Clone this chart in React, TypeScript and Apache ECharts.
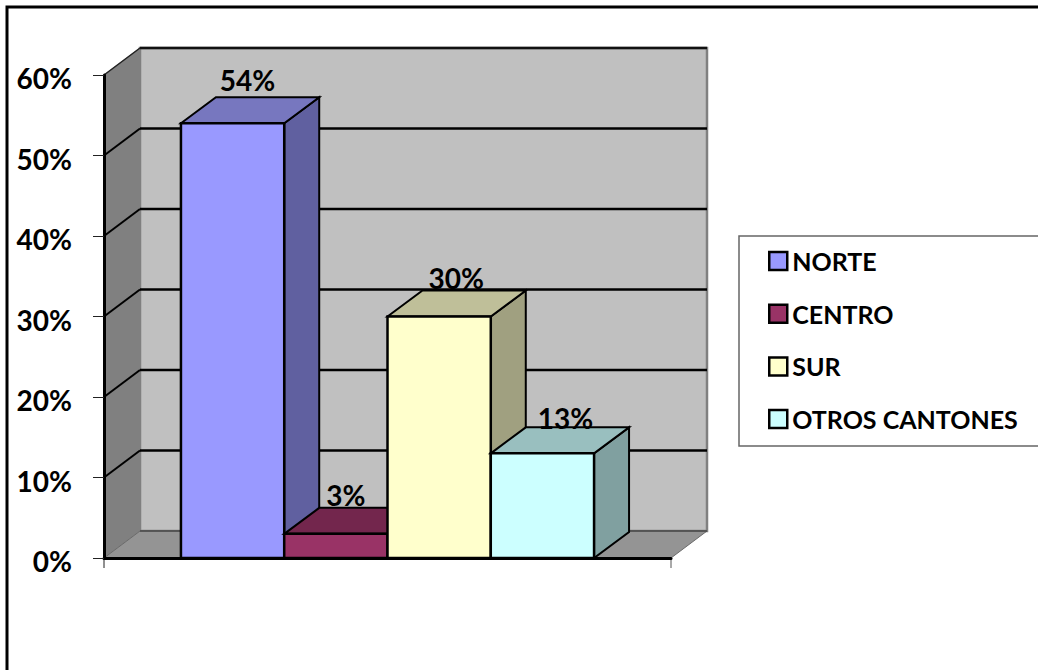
import React, { useEffect, useRef } from "react";
import * as echarts from "echarts";

// Share of responses per zone, in percent.
const zones = ["NORTE", "CENTRO", "SUR", "OTROS CANTONES"];
const shares = [54, 3, 30, 13];
const yTicks = [0, 10, 20, 30, 40, 50, 60];
const categories = [""];

const faceColors = ["#9999FF", "#993366", "#FFFFCC", "#CCFFFF"];
const topColors = ["#7777BF", "#73264D", "#BFBF99", "#99BFBF"];
const sideColors = ["#6060A0", "#602040", "#A0A080", "#80A0A0"];

const FONT = "Lato, 'Open Sans', sans-serif";
const GAP_RATIO = 0.745; // free space each side of the cluster, in bar widths
const DEPTH_X = 36;
const DEPTH_Y = -27;
const BAR_DEPTH_X = 35;
const BAR_DEPTH_Y = -26;
// Value labels sit a little to the right of each bar's centre.
const labelShiftX = [15, 10, 17, 23];
const labelShiftY = [-17, -13, -13, -9];

const poly = (points: number[][], fill: string, stroke: string, lineWidth: number, z2 = 0) => ({
  type: "polygon",
  z2,
  shape: { points },
  style: { fill, stroke, lineWidth, lineJoin: "miter" },
});

const seg = (a: number[], b: number[], stroke: string, lineWidth: number, z2 = 1) => ({
  type: "line",
  z2,
  shape: { x1: a[0], y1: a[1], x2: b[0], y2: b[1] },
  style: { stroke, lineWidth },
});

// Axis-aligned box of the front plane for one bar of the cluster.
function barFrame(api: any, index: number) {
  const cell = api.size([1, 0])[0];
  const left = api.coord([0, 0])[0] - cell / 2;
  const barWidth = cell / (zones.length + 2 * GAP_RATIO);
  const x0 = left + (GAP_RATIO + index) * barWidth;
  return { x0, x1: x0 + barWidth, barWidth };
}

function renderWalls(_: any, api: any) {
  const cell = api.size([1, 0])[0];
  const cx = api.coord([0, 0])[0];
  const l = cx - cell / 2;
  const r = cx + cell / 2;
  const yOf = (v: number) => api.coord([0, v])[1];
  const y0 = yOf(yTicks[0]);
  const yTop = yOf(yTicks[yTicks.length - 1]);
  const back = (x: number, y: number) => [x + DEPTH_X, y + DEPTH_Y];

  const children: any[] = [
    poly([[l, y0], [l, yTop], back(l, yTop), back(l, y0)], "#808080", "#808080", 1),
    poly([back(l, y0), back(l, yTop), back(r, yTop), back(r, y0)], "#C0C0C0", "#808080", 2.5),
    poly([[l, y0], back(l, y0), back(r, y0), [r, y0]], "#949494", "#6a6a6a", 1),
    seg(back(l, y0), back(r, y0), "#4a4a4a", 1.5),
    seg(back(l, yTop), back(r, yTop), "#111", 2.5),
    seg([l, yTop], back(l, yTop), "#222", 1.5),
    // End ticks of the horizontal axis, under the floor's front edge.
    seg([l, y0], [l, y0 + 10], "#222", 1),
    seg([r, y0], [r, y0 + 10], "#555", 1),
  ];
  yTicks.slice(1, -1).forEach((v) => {
    const y = yOf(v);
    children.push(seg([l, y], back(l, y), "#000", 2));
    children.push(seg(back(l, y), back(r, y), "#000", 2.5));
  });
  return { type: "group", children };
}

const renderBar = (index: number) => (_: any, api: any) => {
  const { x0, x1 } = barFrame(api, index);
  const y0 = api.coord([0, 0])[1];
  const y1 = api.coord([0, api.value(1)])[1];
  const dx = BAR_DEPTH_X;
  const dy = BAR_DEPTH_Y;
  return {
    type: "group",
    children: [
      poly([[x1, y0], [x1, y1], [x1 + dx, y1 + dy], [x1 + dx, y0 + dy]], sideColors[index], "#000", 2),
      poly([[x0, y1], [x0 + dx, y1 + dy], [x1 + dx, y1 + dy], [x1, y1]], topColors[index], "#000", 2),
      poly([[x0, y0], [x0, y1], [x1, y1], [x1, y0]], faceColors[index], "#000", 2.5),
    ],
  };
};

const renderValueLabel = (index: number) => (_: any, api: any) => {
  const { x0, barWidth } = barFrame(api, index);
  const value = api.value(1);
  const y1 = api.coord([0, value])[1];
  return {
    type: "text",
    z2: 50,
    x: x0 + barWidth / 2 + labelShiftX[index],
    y: y1 + BAR_DEPTH_Y + labelShiftY[index],
    style: {
      text: `${value}%`,
      fill: "#000",
      font: `bold 28px ${FONT}`,
      align: "center",
      verticalAlign: "middle",
    },
  };
};

export default function App() {
  const ref = useRef<HTMLDivElement>(null);

  useEffect(() => {
    document.body.style.margin = "0";
    document.body.style.overflow = "hidden";
    const chart = echarts.init(ref.current!, undefined, { renderer: "svg" });
    chart.setOption({
      animation: false,
      backgroundColor: "#fff",
      textStyle: { fontFamily: FONT },
      grid: { left: 104, right: 367, top: 75, bottom: 112, containLabel: false },
      xAxis: {
        type: "category",
        data: categories,
        z: 10,
        axisLine: { lineStyle: { color: "#000", width: 3 } },
        axisTick: { show: false },
        axisLabel: { show: false },
      },
      yAxis: {
        type: "value",
        min: 0,
        max: 60,
        interval: 10,
        z: 10,
        splitLine: { show: false },
        axisLine: { show: true, lineStyle: { color: "#000", width: 3 } },
        axisTick: { show: true, length: 11, lineStyle: { color: "#222", width: 1 } },
        axisLabel: {
          formatter: "{value}%",
          color: "#000",
          fontFamily: FONT,
          fontWeight: "bold",
          fontSize: 28,
          margin: 32,
          verticalAlign: "top",
          lineHeight: 6,
        },
      },
      legend: {
        orient: "vertical",
        left: 739,
        top: 236,
        padding: [10, 60, 12, 29],
        itemGap: 22.7,
        itemWidth: 18,
        itemHeight: 18,
        icon: "rect",
        borderColor: "#666",
        borderWidth: 1.5,
        backgroundColor: "#fff",
        selectedMode: false,
        textStyle: { color: "#000", fontFamily: FONT, fontWeight: "bold", fontSize: 25, lineHeight: 30 },
        data: zones.map((name, i) => ({
          name,
          icon: "rect",
          itemStyle: { color: faceColors[i], borderColor: "#000", borderWidth: 2.5 },
        })),
      },
      graphic: [
        {
          type: "polyline",
          silent: true,
          shape: { points: [[7, 670], [7, 7], [1038, 7]] },
          style: { fill: "none", stroke: "#000", lineWidth: 3 },
        },
      ],
      series: [
        {
          type: "custom",
          name: "walls",
          renderItem: renderWalls,
          data: [[0, 0]],
          z: 1,
          clip: false,
          silent: true,
        },
        ...zones.map((name, i) => ({
          type: "custom",
          name,
          renderItem: renderBar(i),
          data: [[0, shares[i]]],
          encode: { x: 0, y: 1 },
          itemStyle: { color: faceColors[i] },
          z: 2 + i,
          clip: false,
          silent: true,
        })),
        ...zones.map((name, i) => ({
          type: "custom",
          name: `${name} etiqueta`,
          renderItem: renderValueLabel(i),
          data: [[0, shares[i]]],
          encode: { x: 0, y: 1 },
          z: 20,
          clip: false,
          silent: true,
        })),
      ],
    });
    return () => chart.dispose();
  }, []);

  return <div ref={ref} style={{ width: 1038, height: 670 }} />;
}
